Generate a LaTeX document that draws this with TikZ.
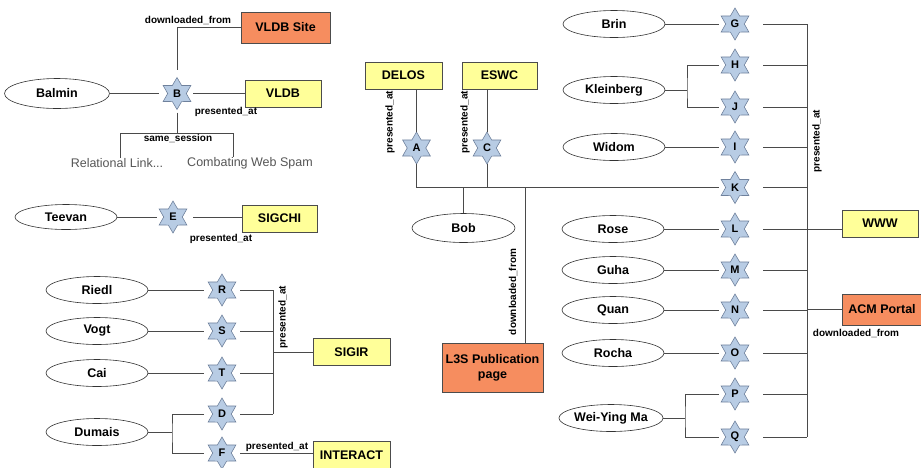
\documentclass[tikz,border=0pt]{standalone}
\usepackage{fontspec}
\setmainfont{Liberation Sans}
\usetikzlibrary{shapes.geometric,calc}
\definecolor{ybox}{HTML}{FFFF99}
\definecolor{obox}{HTML}{F68D5F}
\definecolor{sfill}{HTML}{B8CCE4}
\definecolor{sdraw}{HTML}{6F819C}
\definecolor{lnc}{HTML}{4A4A4A}
\definecolor{txtg}{HTML}{555555}
\begin{document}
\begin{tikzpicture}[x=1pt,y=-1pt,
 ent/.style={ellipse,draw=black!80,line width=0.6pt,fill=white,minimum width=102pt,minimum height=27pt,inner sep=0pt,font=\fontsize{12.5}{14}\selectfont\bfseries},
 ybx/.style={rectangle,draw=black!70,line width=0.6pt,fill=ybox,minimum width=76pt,minimum height=27pt,inner sep=0pt,align=center,font=\fontsize{12.5}{15}\selectfont\bfseries},
 obx/.style={ybx,fill=obox},
 starshape/.style={draw=sdraw,fill=sfill,line width=0.6pt,line join=miter},
 st/.style={circle,minimum size=32pt,inner sep=0pt,outer sep=0pt,font=\fontsize{11}{12}\selectfont\bfseries},
 lbl/.style={font=\fontsize{10}{12}\selectfont\bfseries,inner sep=0pt},
 doc/.style={font=\fontsize{12.5}{14}\selectfont,text=txtg,inner sep=0pt},
 ln/.style={draw=lnc,line width=0.9pt}
]
\useasboundingbox (0,0) rectangle (921,467);
% ---------- stars (hexagrams) with their letters ----------
\foreach \n/\x/\y in {B/177/93.5,E/173/217,R/222/290,S/222/331,T/222/373,D/222/414,F/222/453,
  A/416.5/148,C/487/148,
  G/735/24,H/735/65,J/735/107,I/735/147,K/735/187.5,L/735/229,M/735/270,N/735/310,O/735/353,P/735/394,Q/735/437}{
  \draw[starshape] (\x,\y) +(90:16) -- +(120:9.3) -- +(150:16) -- +(180:9.3) -- +(210:16) -- +(240:9.3)
     -- +(270:16) -- +(300:9.3) -- +(330:16) -- +(0:9.3) -- +(30:16) -- +(60:9.3) -- cycle;
  \node[st] (\n) at (\x,\y) {\n};
}
% ---------- top left: B ----------
\node[ent,minimum width=105pt,minimum height=30pt] (Balmin) at (57,93.5) {Balmin};
\node[obx,minimum width=89pt,minimum height=31pt] (VLDBSite) at (285.5,27.5) {VLDB Site};
\node[ybx] (VLDB) at (283,93.5) {VLDB};
\node[doc] (RL) at (117,163) {Relational Link...};
\node[doc] (CWS) at (250,163) {Combating Web Spam};
\coordinate (ssl) at (120,133);
\coordinate (ssr) at (233,133);
\draw[ln] ($(B.north)+(0,-8)$) |- (VLDBSite.west);
\draw[ln] (Balmin.east) -- ($(B.center)+(-18,0)$);
\draw[ln] ($(B.center)+(16,0)$) -- (B -| VLDB.west);
\draw[ln] ($(B.south)+(0,3)$) -- (B.south |- ssl);
\draw[ln] (ssl |- RL.north) -- (ssl) -- (ssr) -- (ssr |- CWS.north);
\node[lbl] (lb1) at (188,20) {downloaded\_from};
\node[lbl] (lb2) at (226,112) {presented\_at};
\node[lbl] (lb3) at (178,138.5) {same\_session};
% ---------- E ----------
\node[ent,minimum height=25pt] (Teevan) at (66,217) {Teevan};
\node[ybx,minimum width=75pt] (SIGCHI) at (279.5,218.5) {SIGCHI};
\draw[ln] (Teevan.east) -- ($(E.center)+(-16,0)$);
\draw[ln] ($(E.center)+(20,0)$) -- (E -| SIGCHI.west);
\node[lbl] (lb4) at (221,239) {presented\_at};
% ---------- R S T D F ----------
\node[ent] (Riedl) at (97,290) {Riedl};
\node[ent] (Vogt) at (97,331) {Vogt};
\node[ent] (Cai) at (97,373) {Cai};
\node[ent] (Dumais) at (97,432) {Dumais};
\node[ybx,minimum width=77pt] (SIGIR) at (351.5,352) {SIGIR};
\node[ybx,minimum width=77pt,minimum height=28pt] (INTERACT) at (351.5,455) {INTERACT};
\coordinate (lb) at (273,290);
\coordinate (dm) at (172,432);
\foreach \s/\e in {R/Riedl,S/Vogt,T/Cai}{
  \draw[ln] (\e.east) -- ($(\s.center)+(-18,0)$);
}
\foreach \s in {R,S,T,D}{
  \draw[ln] ($(\s.center)+(18,0)$) -- (\s -| lb);
}
\draw[ln] (R -| lb) -- (D -| lb);
\draw[ln] (SIGIR.west) -- (SIGIR.west -| lb);
\draw[ln] (Dumais.east) -- (dm);
\draw[ln] ($(D.center)+(-18,0)$) -| (dm) |- ($(F.center)+(-18,0)$);
\draw[ln] ($(F.center)+(18,0)$) -- (F -| INTERACT.west);
\node[lbl,rotate=90] (lb5) at (283,317) {presented\_at};
\node[lbl] (lb6) at (277,447) {presented\_at};
% ---------- center ----------
\node[ybx,minimum width=77pt] (DELOS) at (403.5,75.5) {DELOS};
\node[ybx,minimum width=75pt] (ESWC) at (499.5,75.5) {ESWC};
\node[ent,minimum width=103pt,minimum height=29pt] (Bob) at (463.5,228) {Bob};
\node[obx,minimum width=101pt,minimum height=49pt] (L3S) at (492.5,367.5) {L3S Publication\\page};
% ---------- right ----------
\node[ent] (Brin) at (614,24) {Brin};
\node[ent] (Kleinberg) at (614,90) {Kleinberg};
\node[ent] (Widom) at (614,147) {Widom};
\node[ent] (Rose) at (613,229) {Rose};
\node[ent] (Guha) at (613,270) {Guha};
\node[ent] (Quan) at (613,310) {Quan};
\node[ent] (Rocha) at (613,353) {Rocha};
\node[ent] (WeiYing) at (611,418) {Wei-Ying Ma};
\node[ybx] (WWW) at (880,223.5) {WWW};
\node[obx,minimum width=80pt,minimum height=31pt] (ACM) at (882,309.5) {ACM Portal};
\coordinate (rb) at (807,24);
\coordinate (kj) at (687,90);
\coordinate (wm) at (685,418);
\coordinate (dl) at ($(L3S.north)+(32.5,0)$);
% center connectors
\draw[ln] (A.north) -- (A.north |- DELOS.south);
\draw[ln] (C.north) -- (C.north |- ESWC.south);
\draw[ln] (A.south) -- (A.south |- K) -- ($(K.center)+(-16,0)$);
\draw[ln] (C.south) -- (C.south |- K);
\draw[ln] (Bob.north) -- (Bob.north |- K);
\draw[ln] (dl) -- (dl |- K);
\node[lbl,rotate=90] (lb7) at (390,122) {presented\_at};
\node[lbl,rotate=90] (lb8) at (465,122) {presented\_at};
\node[lbl,rotate=90] (lb9) at (513,292) {downloaded\_from};
% right connectors
\foreach \s/\e in {G/Brin,I/Widom,L/Rose,M/Guha,N/Quan,O/Rocha}{
  \draw[ln] (\e.east) -- ($(\s.center)+(-16,0)$);
}
\draw[ln] (Kleinberg.east) -- (kj);
\draw[ln] ($(H.center)+(-16,0)$) -| (kj) |- ($(J.center)+(-16,0)$);
\draw[ln] (WeiYing.east) -- (wm);
\draw[ln] ($(P.center)+(-16,0)$) -| (wm) |- ($(Q.center)+(-16,0)$);
\foreach \s in {G,H,J,I,K,L,M,N,O,P,Q}{
  \draw[ln] ($(\s.center)+(28,0)$) -- (\s -| rb);
}
\draw[ln] (G -| rb) -- (Q -| rb);
\draw[ln] (L -| rb) -- (L -| WWW.west);
\draw[ln] (ACM.west) -- (ACM.west -| rb);
\node[lbl,rotate=90] (lb10) at (817,141) {presented\_at};
\node[lbl] (lb11) at (856,333) {downloaded\_from};
\end{tikzpicture}
\end{document}
